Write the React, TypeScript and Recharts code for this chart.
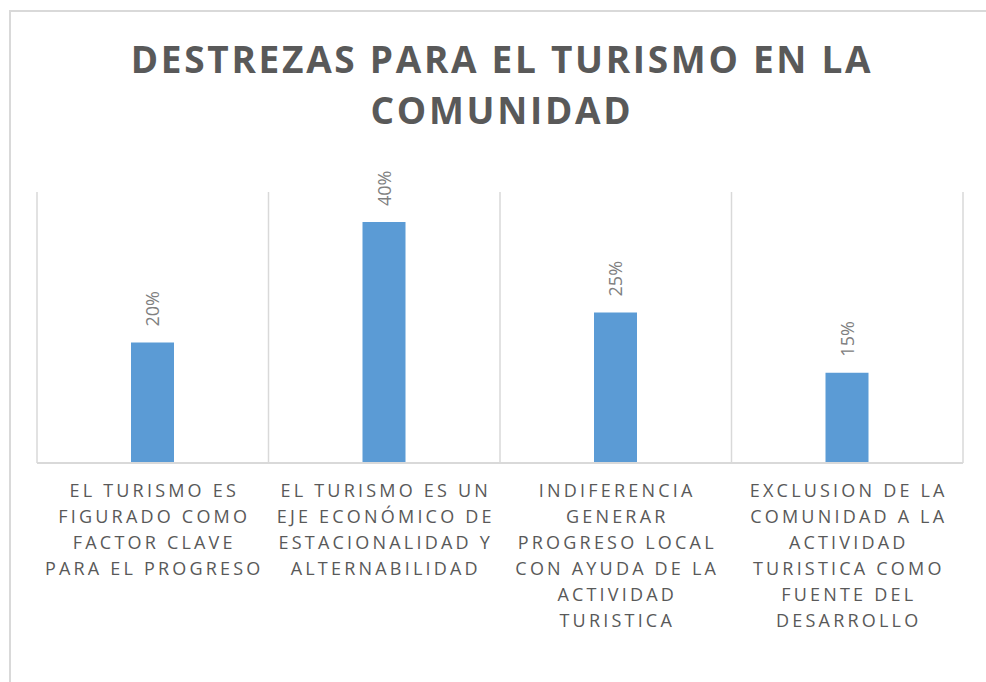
import { BarChart, Bar, XAxis, YAxis, CartesianGrid, LabelList } from "recharts";

const categories = [
  "EL TURISMO ES\nFIGURADO COMO\nFACTOR CLAVE\nPARA EL PROGRESO",
  "EL TURISMO ES UN\nEJE ECONÓMICO DE\nESTACIONALIDAD Y\nALTERNABILIDAD",
  "INDIFERENCIA\nGENERAR\nPROGRESO LOCAL\nCON AYUDA DE LA\nACTIVIDAD\nTURISTICA",
  "EXCLUSION DE LA\nCOMUNIDAD A LA\nACTIVIDAD\nTURISTICA COMO\nFUENTE DEL\nDESARROLLO",
];
const percentages = [20, 40, 25, 15];

const data = categories.map((name, i) => ({ name, value: percentages[i] }));

const FONT = "'Open Sans', 'Noto Sans', sans-serif";
const MARGIN = { top: 192, right: 23, bottom: 39, left: 37 };

function CategoryTick({ x, y, payload }: any) {
  const lines = String(payload.value).split("\n");
  return (
    <text
      x={x}
      y={y}
      textAnchor="middle"
      fill="#595959"
      fontFamily={FONT}
      fontSize={18}
      letterSpacing={3.2}
    >
      {lines.map((line, i) => (
        <tspan key={i} x={x + 1.5} dy={26}>
          {line}
        </tspan>
      ))}
    </text>
  );
}

function ValueLabel({ x, y, width, value }: any) {
  const cx = x + width / 2;
  const ty = y - 16;
  return (
    <text
      x={cx}
      y={ty}
      transform={`rotate(-90, ${cx}, ${ty})`}
      textAnchor="start"
      dominantBaseline="central"
      fill="#808080"
      fontFamily={FONT}
      fontSize={18}
    >
      {`${value}%`}
    </text>
  );
}

export default function App() {
  return (
    <div
      style={{
        position: "absolute",
        left: 0,
        top: 0,
        width: 986,
        height: 682,
        background: "#ffffff",
        overflow: "hidden",
        fontFamily: FONT,
      }}
    >
      <div
        style={{
          position: "absolute",
          left: 9,
          top: 10,
          width: 1000,
          height: 700,
          borderTop: "2px solid #d9d9d9",
          borderLeft: "2px solid #d9d9d9",
        }}
      />
      <div
        style={{
          position: "absolute",
          left: 0,
          top: 33,
          width: 1004,
          textAlign: "center",
          color: "#595959",
          fontWeight: 700,
          fontSize: 37,
          letterSpacing: 2.7,
          lineHeight: "51px",
        }}
      >
        DESTREZAS PARA EL TURISMO EN LA
        <br />
        COMUNIDAD
      </div>
      <div style={{ position: "absolute", left: 0, top: 0 }}>
        <BarChart width={986} height={682} data={data} margin={MARGIN}>
          <CartesianGrid
            horizontal={false}
            stroke="#d9d9d9"
            strokeWidth={1.5}
            verticalCoordinatesGenerator={({ offset }: any) => {
              const left = offset?.left ?? MARGIN.left;
              const w = offset?.width ?? 986 - MARGIN.left - MARGIN.right;
              return categories
                .map((_, i) => left + (i * w) / categories.length)
                .concat(left + w);
            }}
          />
          <XAxis
            dataKey="name"
            interval={0}
            height={180}
            tickLine={false}
            axisLine={{ stroke: "#d9d9d9", strokeWidth: 2 }}
            tick={<CategoryTick />}
          />
          <YAxis hide domain={[0, 45]} />
          <Bar dataKey="value" fill="#5b9bd5" barSize={43} isAnimationActive={false}>
            <LabelList dataKey="value" content={<ValueLabel />} />
          </Bar>
        </BarChart>
      </div>
    </div>
  );
}
